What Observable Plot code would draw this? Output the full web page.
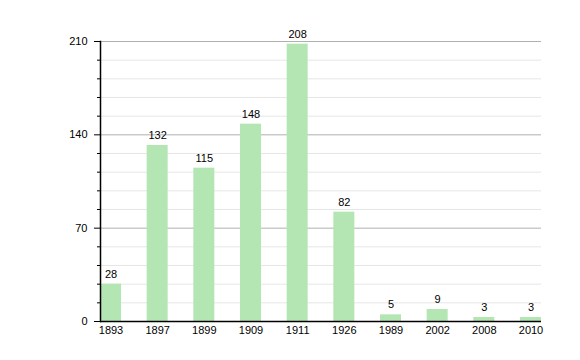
<!DOCTYPE html>
<html><head><meta charset="utf-8">
<script src="https://cdn.jsdelivr.net/npm/d3@7"></script>
<script src="https://cdn.jsdelivr.net/npm/@observablehq/plot@0.6"></script>
<style>body{margin:0;background:#fff}</style>
</head><body><div id="chart"></div>
<script>
const years = ["1893","1897","1899","1909","1911","1926","1989","2002","2008","2010"];
const values = [28,132,115,148,208,82,5,9,3,3];
const majorTicks = [0,70,140,210];
const minorTicks = [14,28,42,56,84,98,112,126,154,168,182,196];

const data = years.map((y,i)=>({year:y, value:values[i]}));

const chart = Plot.plot({
  width: 580, height: 360,
  marginLeft: 100, marginRight: 39, marginTop: 41, marginBottom: 39,
  style: {fontFamily: "Liberation Sans, Arial, sans-serif", fontSize: "11px", color: "#000", background: "#fff"},
  x: {domain: years, type: "band", paddingInner: 0.55, paddingOuter: 0, round: false, label: null},
  y: {domain: [0,210], label: null},
  marks: [
    Plot.gridY(minorTicks, {stroke: "#e6e6e6", strokeOpacity: 1}),
    Plot.gridY(majorTicks, {stroke: "#b0b0b0", strokeOpacity: 1}),
    Plot.barY(data, {x: "year", y: "value", fill: "#b3e6b3"}),
    Plot.text(data, {x: "year", y: "value", text: d => String(d.value), dy: -10, fill: "#000", fontSize: 11}),
    Plot.axisY(majorTicks, {tickSize: 6, tickPadding: 7, stroke: "#000", fontSize: 11, label: null}),
    Plot.axisY(minorTicks, {tickSize: 3, tickFormat: () => "", stroke: "#000", label: null}),
    Plot.axisX({tickSize: 0, tickPadding: 5, fontSize: 11, label: null}),
    Plot.frame({anchor: "left", stroke: "#000", strokeWidth: 1.5}),
    Plot.ruleY([0], {stroke: "#000", strokeWidth: 1.5})
  ]
});
document.getElementById("chart").appendChild(chart);
</script>
</body></html>
